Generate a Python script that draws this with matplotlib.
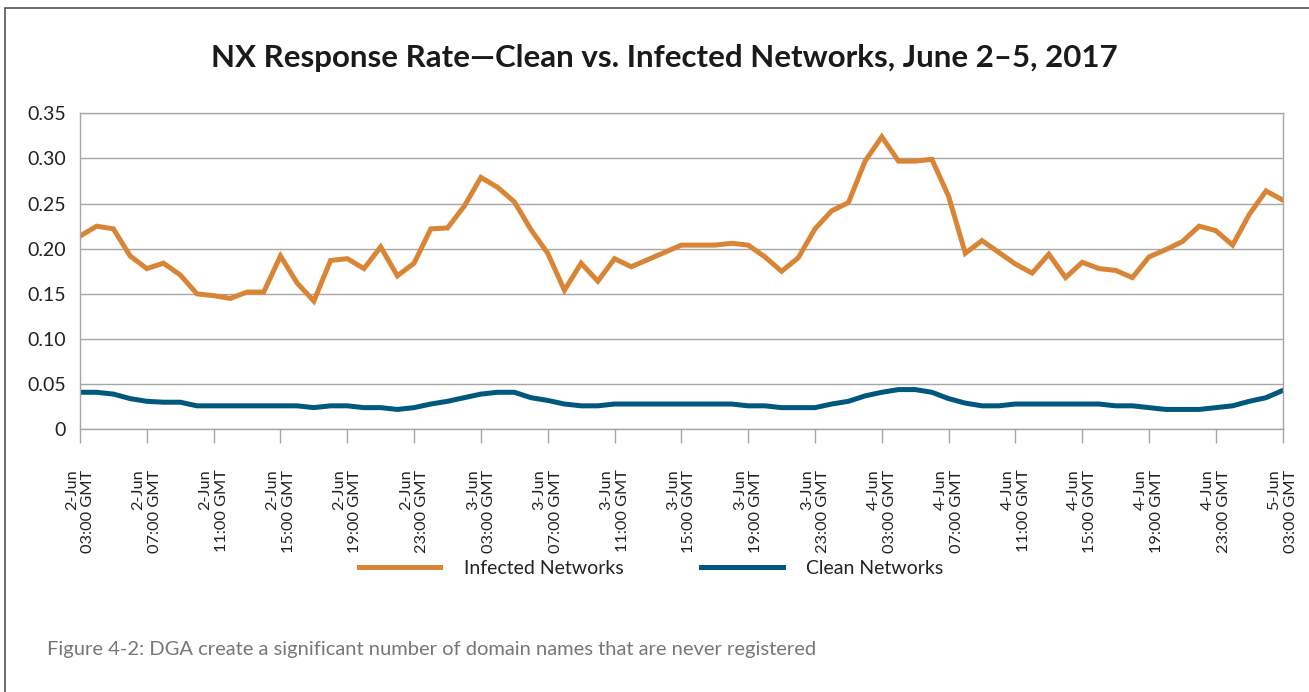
import numpy as np
import matplotlib
matplotlib.use('Agg')
import matplotlib.pyplot as plt
from matplotlib.patches import Rectangle

plt.rcParams['font.family'] = ['Lato', 'DejaVu Sans']

# hourly readings, 2-Jun 03:00 GMT to 5-Jun 03:00 GMT
infected = [0.214, 0.225, 0.222, 0.192, 0.178, 0.184, 0.171, 0.150, 0.148, 0.145,
            0.152, 0.152, 0.192, 0.162, 0.142, 0.187, 0.189, 0.178, 0.202, 0.170,
            0.184, 0.222, 0.223, 0.247, 0.279, 0.268, 0.252, 0.221, 0.195, 0.154,
            0.184, 0.164, 0.189, 0.180, 0.188, 0.196, 0.204, 0.204, 0.204, 0.206,
            0.204, 0.191, 0.175, 0.190, 0.222, 0.242, 0.251, 0.297, 0.324, 0.297,
            0.297, 0.299, 0.258, 0.195, 0.209, 0.196, 0.183, 0.173, 0.194, 0.168,
            0.185, 0.178, 0.176, 0.168, 0.191, 0.199, 0.208, 0.225, 0.220, 0.204,
            0.238, 0.264, 0.254]
clean = [0.041, 0.041, 0.039, 0.034, 0.031, 0.030, 0.030, 0.026, 0.026, 0.026,
         0.026, 0.026, 0.026, 0.026, 0.024, 0.026, 0.026, 0.024, 0.024, 0.022,
         0.024, 0.028, 0.031, 0.035, 0.039, 0.041, 0.041, 0.035, 0.032, 0.028,
         0.026, 0.026, 0.028, 0.028, 0.028, 0.028, 0.028, 0.028, 0.028, 0.028,
         0.026, 0.026, 0.024, 0.024, 0.024, 0.028, 0.031, 0.037, 0.041, 0.044,
         0.044, 0.041, 0.034, 0.029, 0.026, 0.026, 0.028, 0.028, 0.028, 0.028,
         0.028, 0.028, 0.026, 0.026, 0.024, 0.022, 0.022, 0.022, 0.024, 0.026,
         0.031, 0.035, 0.043]

tick_days = ['2-Jun'] * 6 + ['3-Jun'] * 6 + ['4-Jun'] * 6 + ['5-Jun']
tick_times = ['03:00', '07:00', '11:00', '15:00', '19:00', '23:00'] * 3 + ['03:00']
tick_labels = [d + '\n' + t + ' GMT' for d, t in zip(tick_days, tick_times)]

y_ticks = [0, 0.05, 0.10, 0.15, 0.20, 0.25, 0.30, 0.35]
y_labels = ['0', '0.05', '0.10', '0.15', '0.20', '0.25', '0.30', '0.35']

fig = plt.figure(figsize=(13.09, 6.92), dpi=100)

# outer frame of the figure box
fig.patches.append(Rectangle((5 / 1309, -0.1), 1.2, (692 - 8) / 692 + 0.1,
                             transform=fig.transFigure, fill=False,
                             edgecolor='#555555', linewidth=1.2))

ax = fig.add_axes([80 / 1309, 1 - 429.3 / 692, (1282.7 - 80) / 1309, (429.3 - 113.3) / 692])

x = np.arange(len(infected))
ax.plot(x, infected, color='#D98536', linewidth=3.6, label='Infected Networks',
        solid_joinstyle='miter')
ax.plot(x, clean, color='#00587C', linewidth=3.6, label='Clean Networks',
        solid_joinstyle='round')

ax.set_xlim(0, len(infected) - 1)
ax.set_ylim(0, 0.35)
ax.set_yticks(y_ticks)
ax.set_yticklabels(y_labels)
ax.yaxis.grid(True, color='#A6A6A6', linewidth=1.0)
ax.set_axisbelow(True)

ax.set_xticks(x[::4])
ax.set_xticklabels(tick_labels, rotation=90, linespacing=1.2)
for lbl in ax.get_xticklabels():
    lbl.set_multialignment('right')

ax.tick_params(axis='x', direction='out', length=10, width=1.0, color='#A6A6A6',
               pad=19, labelsize=11.8, labelcolor='#222222')
ax.tick_params(axis='y', length=0, pad=10, labelsize=14, labelcolor='#222222')
for s in ax.spines.values():
    s.set_color('#A6A6A6')
    s.set_linewidth(1.0)

fig.text(664 / 1309, 1 - 58 / 692, 'NX Response Rate\u2014Clean vs. Infected Networks, June 2\u20135, 2017',
         ha='center', va='center', fontsize=22.5, fontweight='bold', color='#1A1A1A')

fig.legend(loc='center', bbox_to_anchor=(651 / 1309, 1 - 568 / 692), ncol=2, frameon=False,
           fontsize=14, handlelength=4.2, handletextpad=1.2, columnspacing=4.0,
           labelcolor='#222222')

fig.text(47 / 1309, 1 - 650 / 692,
         'Figure 4-2: DGA create a significant number of domain names that are never registered',
         ha='left', va='center', fontsize=14.5, color='#777777')

fig.savefig('out.png', dpi=100)
